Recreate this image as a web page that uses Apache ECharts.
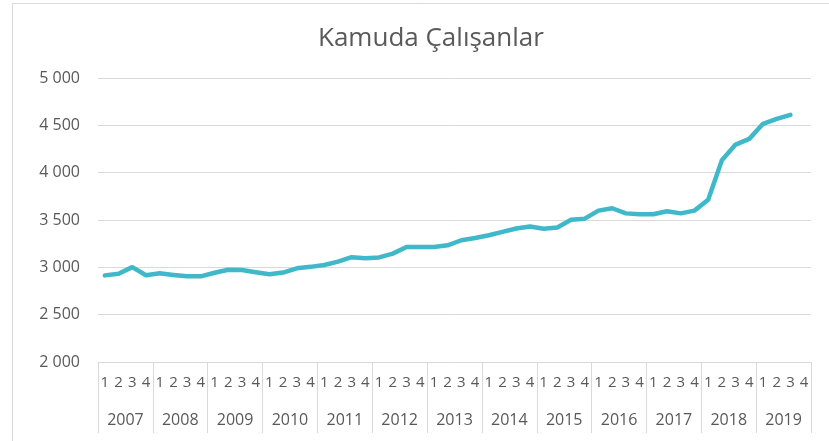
<!DOCTYPE html>
<html>
<head>
<meta charset="utf-8">
<script src="https://cdn.jsdelivr.net/npm/echarts@6/dist/echarts.min.js"></script>
<style>html,body{margin:0;padding:0;background:#fff}#c{width:829px;height:441px}</style>
</head>
<body>
<div id="c"></div>
<script>
var years = ['2007','2008','2009','2010','2011','2012','2013','2014','2015','2016','2017','2018','2019'];
var quarterNames = ['1','2','3','4'];
var quarters = [];
years.forEach(function(){ quarterNames.forEach(function(q){ quarters.push(q); }); });
var values = [
  2915, 2932, 3002, 2916,
  2938, 2920, 2905, 2905,
  2943, 2975, 2972, 2948,
  2927, 2945, 2990, 3005,
  3025, 3060, 3107, 3095,
  3105, 3145, 3214, 3215,
  3215, 3233, 3286, 3310,
  3339, 3375, 3410, 3432,
  3407, 3421, 3502, 3514,
  3599, 3624, 3570, 3560,
  3560, 3592, 3570, 3599,
  3715, 4131, 4297, 4357,
  4516, 4569, 4611, null
];
var yTicks = {min: 2000, max: 5000, interval: 500};
var gray = '#d9d9d9', txt = '#595959', font = 'Open Sans';
var chart = echarts.init(document.getElementById('c'));
chart.setOption({
  animation: false,
  title: {text: 'Kamuda Çalışanlar', left: 313, top: 21,
    textStyle: {fontFamily: font, fontSize: 26, fontWeight: 'normal', color: txt}},
  graphic: [{type: 'rect', shape: {x: 12.5, y: 3.5, width: 900, height: 500},
    style: {fill: 'none', stroke: gray, lineWidth: 1}, silent: true}],
  grid: {left: 98, right: 18, top: 78, bottom: 79},
  xAxis: [
    {type: 'category', data: quarters, boundaryGap: true,
      axisLine: {show: true, lineStyle: {color: gray, width: 1}},
      axisTick: {show: false},
      axisLabel: {interval: 0, margin: 13, color: txt, fontFamily: font, fontSize: 15}},
    {type: 'category', data: years, boundaryGap: true, position: 'bottom',
      axisLine: {show: false},
      axisTick: {show: true, length: 71, lineStyle: {color: gray, width: 1}},
      axisLabel: {interval: 0, margin: 50, color: txt, fontFamily: font, fontSize: 16}}
  ],
  yAxis: {type: 'value', min: yTicks.min, max: yTicks.max, interval: yTicks.interval,
    axisLine: {show: false}, axisTick: {show: false},
    splitLine: {lineStyle: {color: gray, width: 1}},
    axisLabel: {margin: 18, color: txt, fontFamily: font, fontSize: 16,
      formatter: function(v){ return String(v).replace(/\B(?=(\d{3})+(?!\d))/g, ' '); }}},
  series: [{type: 'line', data: values, xAxisIndex: 0, showSymbol: false, smooth: false,
    lineStyle: {color: '#3fb8ca', width: 4.5, cap: 'round', join: 'round'}}]
});
</script>
</body>
</html>
